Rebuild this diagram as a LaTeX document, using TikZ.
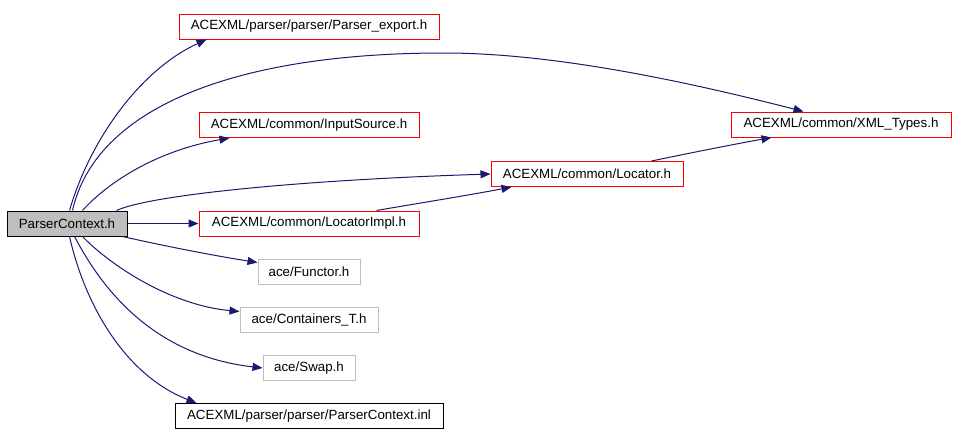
\documentclass[tikz,border=0pt]{standalone}
\usepackage{fontspec}
\setmainfont{Liberation Sans}
\usetikzlibrary{arrows.meta,calc}
\definecolor{edgec}{HTML}{191970}
\definecolor{grayb}{HTML}{BFBFBF}
\definecolor{redb}{HTML}{FF0000}
\tikzset{
  box/.style={draw, line width=0.75pt, inner sep=0pt, minimum height=18.75pt, font=\fontsize{10pt}{12pt}\selectfont, anchor=center},
  redbox/.style={box, draw=redb},
  greybox/.style={box, draw=grayb},
  blackbox/.style={box, draw=black},
  dep/.style={draw=edgec, line width=0.75pt, -{Triangle[length=7.5pt,width=6pt]}, fill=none},
}
\begin{document}
\begin{tikzpicture}[x=0.75pt,y=-0.75pt]
\useasboundingbox (0,0) rectangle (955,432);
% nodes
\node[blackbox, fill=grayb, minimum width=90pt] (pc) at (67,223.5) {ParserContext.h};
\node[redbox, minimum width=195pt] (pe) at (309,26.5) {ACEXML/parser/parser/Parser\_export.h};
\node[redbox, minimum width=165pt] (xt) at (841,124.5) {ACEXML/common/XML\_Types.h};
\node[redbox, minimum width=165pt] (is) at (309,125) {ACEXML/common/InputSource.h};
\node[redbox, minimum width=144pt] (lo) at (587,174) {ACEXML/common/Locator.h};
\node[redbox, minimum width=165pt] (li) at (309,223.5) {ACEXML/common/LocatorImpl.h};
\node[greybox, minimum width=76.5pt] (fu) at (309,271.5) {ace/Functor.h};
\node[greybox, minimum width=103.5pt] (ct) at (309,319.5) {ace/Containers\_T.h};
\node[greybox, minimum width=69pt] (sw) at (309,368) {ace/Swap.h};
\node[blackbox, minimum width=201pt] (inl) at (309,416) {ACEXML/parser/parser/ParserContext.inl};
% edges
\draw[dep] ($(pc.north west)+(63,0)$) .. controls (90,140) and (140,70) .. ($(pe.south west)+(28,0)$);
\draw[dep] ($(pc.north west)+(66,0)$) .. controls (95,110) and (230,53) .. (444,53)
  .. controls (560,53) and (700,85) .. ($(xt.north west)+(73,0)$);
\draw[dep] ($(pc.north west)+(76,0)$) .. controls (110,180) and (160,150) .. ($(is.south west)+(31,0)$);
\draw[dep] ($(pc.north west)+(110,0)$) .. controls (150,195) and (300,180) .. (lo.west);
\draw[dep] ($(li.north west)+(178,0)$) .. controls (420,203) and (470,195) .. ($(lo.south west)+(21,0)$);
\draw[dep] ($(lo.north west)+(161,0)$) .. controls (690,153) and (730,145) .. ($(xt.south west)+(41,0)$);
\draw[dep] (pc.east) -- (li.west);
\draw[dep] ($(pc.south east)+(-5,0)$) .. controls (160,245) and (210,255) .. ($(fu.north west)+(0,4)$);
\draw[dep] ($(pc.south west)+(76,0)$) .. controls (110,265) and (170,305) .. ($(ct.north west)+(0,5)$);
\draw[dep] ($(pc.south west)+(68,0)$) .. controls (100,285) and (150,355) .. (sw.west);
\draw[dep] ($(pc.south west)+(63,0)$) .. controls (85,305) and (125,375) .. ($(inl.north west)+(22,0)$);
\end{tikzpicture}
\end{document}
